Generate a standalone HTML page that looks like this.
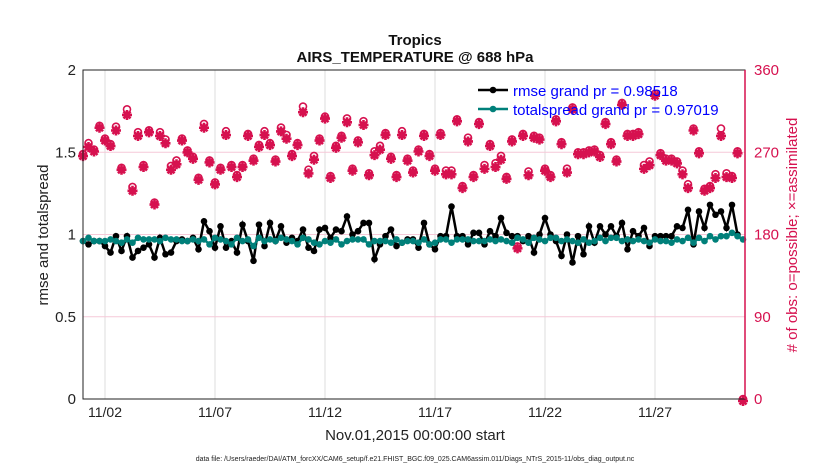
<!DOCTYPE html>
<html><head><meta charset="utf-8"><style>
body{margin:0;background:#fff;}
svg{font-family:"Liberation Sans",sans-serif;}
</style></head><body>
<svg id="chart" width="830" height="470" xmlns="http://www.w3.org/2000/svg" style="position:absolute;left:0;top:0">
<rect width="830" height="470" fill="#fff"/>
<g id="grid"></g><g id="marks"></g><g id="axes"></g>
</svg>
<script>
const xTickLabels=["11/02","11/07","11/12","11/17","11/22","11/27"];
const xTickIdx=[4,24,44,64,84,104];
const leftTicks=[0,0.5,1,1.5,2];
const rightTicks=[0,90,180,270,360];
const obsPossible=[268,280,273,299,285,279,298,253,317,232,292,256,294,215,292,284,255,261,285,272,265,242,301,261,237,253,293,256,245,256,290,263,278,293,280,262,297,289,268,280,320,251,266,285,309,244,277,288,307,252,283,304,247,271,277,291,265,245,293,263,250,273,290,268,252,291,250,250,306,233,286,245,303,256,279,258,266,243,284,167,290,249,288,286,252,245,306,281,252,319,270,270,272,273,267,303,281,262,324,290,290,292,256,260,334,269,263,263,260,250,235,296,271,230,233,246,296,247,244,271,0];
const obsAssim=[268,278,273,299,285,279,296,253,313,230,290,256,294,215,290,282,253,259,285,272,265,242,299,261,237,253,291,256,245,256,290,263,278,291,280,262,295,287,268,280,316,249,264,285,309,244,277,288,305,252,283,302,247,269,275,291,265,245,291,263,250,273,290,268,252,291,248,248,306,233,284,245,303,254,279,256,264,243,284,167,290,247,288,286,252,245,306,281,250,319,270,270,272,273,267,303,281,262,324,290,290,292,254,258,334,269,263,263,260,248,233,296,271,230,233,244,290,245,244,271,0];
const rmse=[0.96,0.94,0.96,0.96,0.93,0.89,0.99,0.90,0.99,0.86,0.90,0.92,0.94,0.86,0.98,0.88,0.89,0.96,0.97,0.96,0.98,0.91,1.08,1.02,0.92,1.05,0.92,0.96,0.89,1.06,0.96,0.84,1.06,0.93,1.07,0.96,1.05,0.95,0.98,0.96,1.03,0.92,0.90,1.03,1.04,0.98,1.03,1.02,1.11,1.00,1.02,1.07,1.07,0.85,0.94,0.99,1.03,0.93,0.95,0.97,0.97,0.92,1.07,0.94,0.91,0.99,0.99,1.17,0.99,0.99,0.94,1.01,1.01,0.94,1.02,0.99,1.10,1.01,0.99,0.99,0.96,0.99,0.89,1.00,1.10,1.00,0.96,0.87,1.00,0.83,0.99,0.88,1.05,0.95,1.05,1.00,1.05,0.99,1.07,0.91,1.02,0.99,1.04,0.93,0.99,0.99,0.99,0.99,1.05,1.04,1.15,0.94,1.14,1.04,1.18,1.12,1.14,1.04,1.18,1.00];
const spread=[0.96,0.98,0.96,0.96,0.96,0.97,0.96,0.95,0.97,0.95,0.98,0.97,0.97,0.97,0.96,0.98,0.97,0.97,0.96,0.96,0.97,0.96,0.97,0.94,0.98,0.97,0.96,0.94,0.98,0.96,0.97,0.93,0.98,0.96,0.97,0.96,0.98,0.97,0.96,0.94,0.98,0.97,0.95,0.94,0.96,0.95,0.97,0.94,0.96,0.97,0.97,0.97,0.94,0.96,0.96,0.96,0.95,0.97,0.95,0.96,0.96,0.95,0.97,0.94,0.95,0.97,0.97,0.95,0.97,0.97,0.97,0.96,0.96,0.96,0.97,0.96,0.97,0.96,0.95,0.98,0.97,0.95,0.98,0.97,0.96,0.98,0.98,0.96,0.97,0.96,0.95,0.97,0.95,0.96,0.98,0.96,0.98,0.98,0.96,0.97,0.96,0.97,0.96,0.95,0.97,0.96,0.96,0.95,0.97,0.96,0.98,0.95,0.98,0.96,0.99,0.97,0.99,0.99,1.01,0.99,0.97];

const X0=83,DX=5.5,YT=70,YB=399;
const xs=i=>X0+i*DX;
const yL=v=>YB-(v/2)*(YB-YT);
const yR=v=>YB-(v/360)*(YB-YT);
const NS="http://www.w3.org/2000/svg";
function mk(parent,tag,attrs,text){const e=document.createElementNS(NS,tag);for(const k in attrs)e.setAttribute(k,attrs[k]);if(text!==undefined)e.textContent=text;document.getElementById(parent).appendChild(e);return e;}
const PINK="#d6114f";
xTickIdx.forEach(i=>{const g=mk("grid","line",{x1:xs(i),x2:xs(i),y1:YT,y2:YB,stroke:"#dcdcdc","stroke-width":1});

});
rightTicks.slice(1,4).forEach(t=>{const g=mk("grid","line",{x1:X0,x2:745,y1:yR(t),y2:yR(t),stroke:"#f6c9d8","stroke-width":1});

});
obsPossible.forEach((v,i)=>{const x=xs(i),y=yR(v);
const c=mk("marks","circle",{cx:x,cy:y,r:3.5,fill:"none",stroke:PINK,"stroke-width":1.6});

});
obsAssim.forEach((v,i)=>{const x=xs(i),y=yR(v)+2;
const g=mk("marks","path",{d:`M${x-5},${y}H${x+5}M${x},${y-5}V${y+5}M${x-3.5},${y-3.5}L${x+3.5},${y+3.5}M${x-3.5},${y+3.5}L${x+3.5},${y-3.5}`,stroke:PINK,"stroke-width":2.6});

});
function series(arr,col,name){
const p=mk("marks","polyline",{points:arr.map((v,i)=>xs(i)+","+yL(v)).join(" "),fill:"none",stroke:col,"stroke-width":2.5});


arr.forEach((v,i)=>{const c=mk("marks","circle",{cx:xs(i),cy:yL(v),r:3.3,fill:col});

});}
series(rmse,"#000","rmse");
series(spread,"#00807a","totalspread");
const ax=mk("axes","rect",{x:X0,y:YT,width:745-X0,height:YB-YT,fill:"none",stroke:"#222","stroke-width":1});


const rax=mk("axes","line",{x1:745,x2:745,y1:YT,y2:YB,stroke:PINK,"stroke-width":1.5});


xTickIdx.forEach((i,k)=>{const t=mk("axes","text",{x:xs(i),y:417,"text-anchor":"middle","font-size":14,fill:"#222"},xTickLabels[k]);

});
leftTicks.forEach(v=>{const t=mk("axes","text",{x:76,y:yL(v)+5,"text-anchor":"end","font-size":15,fill:"#222"},String(v));

});
rightTicks.forEach(v=>{const t=mk("axes","text",{x:754,y:yR(v)+5,"font-size":15,fill:PINK},String(v));

});
</script>
<svg style="position:absolute;left:0;top:0" width="830" height="470">
<text x="415" y="45" text-anchor="middle" font-size="15" font-weight="bold" fill="#111">Tropics</text>
<text x="415" y="62" text-anchor="middle" font-size="15" font-weight="bold" fill="#111">AIRS_TEMPERATURE @ 688 hPa</text>
<text transform="translate(48,235) rotate(-90)" text-anchor="middle" font-size="15" fill="#222">rmse and totalspread</text>
<text transform="translate(797,235) rotate(-90)" text-anchor="middle" font-size="15" fill="#d6114f"># of obs: o=possible; ×=assimilated</text>
<text x="415" y="440" text-anchor="middle" font-size="15" fill="#222">Nov.01,2015 00:00:00 start</text>
<text x="415" y="461" text-anchor="middle" font-size="7" fill="#222">data file: /Users/raeder/DAI/ATM_forcXX/CAM6_setup/f.e21.FHIST_BGC.f09_025.CAM6assim.011/Diags_NTrS_2015-11/obs_diag_output.nc</text>
<g>
<g><line x1="478" x2="508" y1="90" y2="90" stroke="#000" stroke-width="2.5"/><circle cx="493" cy="90" r="3.3" fill="#000"/><text x="513" y="96" font-size="15" fill="#0000ff">rmse grand pr = 0.98518</text></g>
<g><line x1="478" x2="508" y1="109" y2="109" stroke="#00807a" stroke-width="2.5"/><circle cx="493" cy="109" r="3.3" fill="#00807a"/><text x="513" y="115" font-size="15" fill="#0000ff">totalspread grand pr = 0.97019</text></g>
</g>
</svg>
</body></html>
